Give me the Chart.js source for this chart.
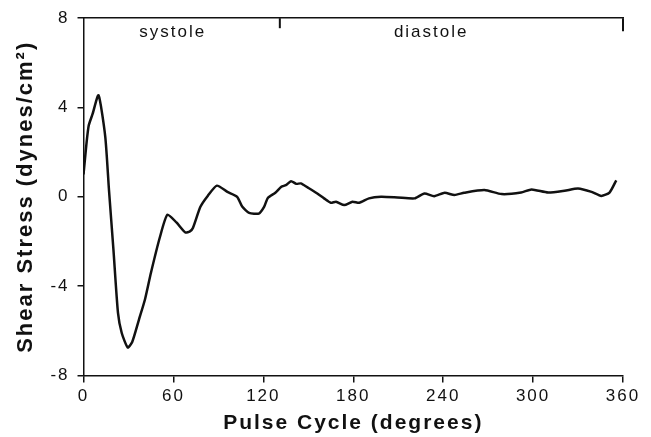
<!DOCTYPE html>
<html>
<head>
<meta charset="utf-8">
<script src="https://cdn.jsdelivr.net/npm/chart.js@4"></script>
<style>
  html, body { margin: 0; padding: 0; background: #fff; }
  #wrap { width: 651px; height: 437px; }
</style>
</head>
<body>
<div id="wrap"><canvas id="shearChart"></canvas></div>
<script>
// pulse cycle position (degrees) and wall shear stress (dynes/cm2)
const degrees = [0, 2, 3.5, 6, 10, 14.5, 17, 20, 23, 25.5, 29.5, 32.5, 37, 41, 45, 51, 56, 62, 68, 71, 73, 78, 83, 89, 96, 102.5, 106, 110.5, 117, 120.5, 123, 128, 132, 135, 138.5, 142, 145, 149.5, 156, 160.5, 165, 168.5, 174, 179.5, 184, 190.5, 198.5, 209.5, 221, 227.5, 234, 241, 247.5, 254, 267.5, 279, 292, 299, 310, 321, 330, 339, 345.5, 351, 355.5];
const shearStress = [1.0, 2.4, 3.2, 3.7, 4.55, 2.7, 0.3, -2.4, -5.2, -6.1, -6.75, -6.5, -5.5, -4.6, -3.4, -1.8, -0.8, -1.15, -1.6, -1.55, -1.4, -0.45, 0.05, 0.5, 0.22, 0, -0.45, -0.72, -0.75, -0.45, -0.05, 0.18, 0.45, 0.52, 0.7, 0.58, 0.6, 0.42, 0.15, -0.07, -0.27, -0.22, -0.37, -0.22, -0.27, -0.07, 0, -0.03, -0.07, 0.15, 0.03, 0.18, 0.08, 0.18, 0.3, 0.12, 0.19, 0.33, 0.19, 0.27, 0.37, 0.22, 0.04, 0.19, 0.74];
const xTicks = [0, 60, 120, 180, 240, 300, 360];
const yTicks = [-8, -4, 0, 4, 8];
const phases = [{ label: 'systole', at: 59.5 }, { label: 'diastole', at: 232 }];
const phaseMarks = [131, 360];

const FONT = 'Liberation Sans, Arial, Helvetica, sans-serif';
const INK = '#111';

// spaced-out lettering like the typewriter style of the original figure
const spacing = {
    id: 'spacing',
    beforeUpdate(chart) { chart.ctx.letterSpacing = '2px'; },
    beforeDraw(chart) { chart.ctx.letterSpacing = '2px'; }
};

// top frame marks: systole / diastole split and phase names
const phaseLabels = {
    id: 'phaseLabels',
    afterDraw(chart) {
        const ctx = chart.ctx;
        const xs = chart.scales.x;
        const top = chart.chartArea.top;
        ctx.save();
        ctx.strokeStyle = INK;
        ctx.lineWidth = 2;
        phaseMarks.forEach(function(d, i) {
            const px = xs.getPixelForValue(d);
            ctx.beginPath();
            ctx.moveTo(px, top);
            ctx.lineTo(px, top + (i === 0 ? 10 : 13));
            ctx.stroke();
        });
        ctx.fillStyle = INK;
        ctx.font = '17px ' + FONT;
        ctx.letterSpacing = '2px';
        ctx.textAlign = 'center';
        ctx.textBaseline = 'middle';
        phases.forEach(function(p) {
            ctx.fillText(p.label, xs.getPixelForValue(p.at), top + 14);
        });
        ctx.restore();
    }
};

const ctx = document.getElementById('shearChart').getContext('2d');
let shearChart = new Chart(ctx, {
    type: 'line',
    data: {
        datasets: [{
            label: 'Shear Stress',
            data: degrees.map((d, i) => ({ x: d, y: shearStress[i] })),
            borderColor: INK,
            borderWidth: 2.5,
            pointRadius: 0,
            tension: 0.2,
            fill: false
        }]
    },
    plugins: [spacing, phaseLabels],
    options: {
        responsive: true,
        maintainAspectRatio: false,
        animation: false,
        layout: { padding: { top: 4, right: 28, left: 13, bottom: 1 } },
        plugins: {
            legend: { display: false },
            tooltip: { enabled: false }
        },
        scales: {
            x: {
                type: 'linear',
                min: 0,
                max: 360,
                afterBuildTicks: function(axis) { axis.ticks = xTicks.map(v => ({ value: v })); },
                border: { display: true, color: INK, width: 1.5 },
                grid: { display: true, drawOnChartArea: false, drawTicks: true, tickLength: 7, color: INK, lineWidth: 1.5 },
                ticks: { color: INK, font: { family: FONT, size: 17 }, padding: 4, maxRotation: 0 },
                title: {
                    display: true,
                    text: 'Pulse Cycle (degrees)',
                    color: INK,
                    font: { family: FONT, size: 21, weight: 'bold' },
                    padding: { top: 0, bottom: 0 }
                }
            },
            x2: {
                type: 'linear',
                position: 'top',
                min: 0,
                max: 360,
                border: { display: true, color: INK, width: 1.5 },
                grid: { display: false },
                ticks: { display: false }
            },
            y: {
                min: -8,
                max: 8,
                afterBuildTicks: function(axis) { axis.ticks = yTicks.map(v => ({ value: v })); },
                border: { display: true, color: INK, width: 1.5 },
                grid: { display: true, drawOnChartArea: false, drawTicks: true, tickLength: 6, color: INK, lineWidth: 1.5 },
                ticks: { color: INK, font: { family: FONT, size: 17 }, padding: 8 },
                title: {
                    display: true,
                    text: 'Shear Stress (dynes/cm²)',
                    color: INK,
                    font: { family: FONT, size: 22, weight: 'bold' },
                    padding: { top: 0, bottom: 3 }
                }
            }
        }
    }
});
</script>
</body>
</html>
